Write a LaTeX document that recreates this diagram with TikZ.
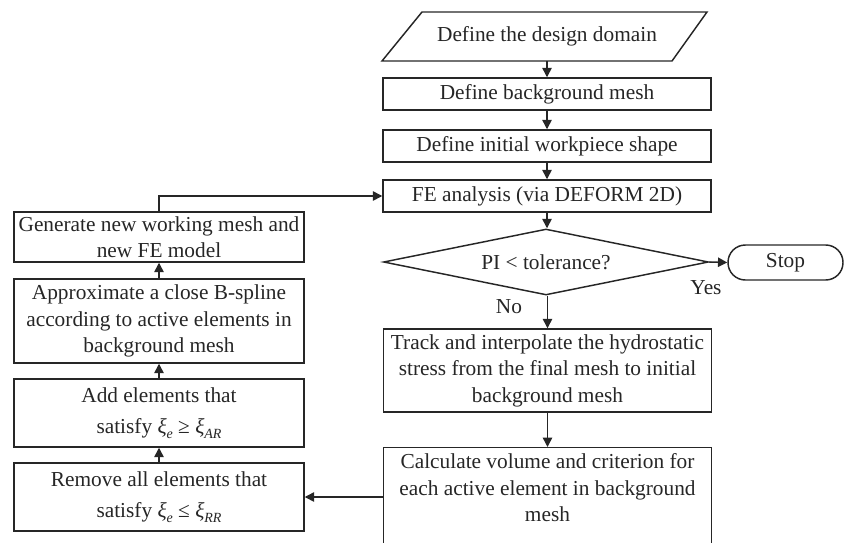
\documentclass[tikz,border=0pt]{standalone}
\usepackage{fontspec}
\setmainfont{Liberation Serif}
\usetikzlibrary{shapes.geometric,arrows.meta}
\definecolor{ink}{HTML}{262626}
% italic xi with a small italic subscript, set in the text font
\newcommand\xisub[1]{{\itshape ξ}\raisebox{-0.45ex}{\fontsize{10.5}{10.5}\selectfont\itshape #1}}
\begin{document}
\begin{tikzpicture}[x=0.75pt,y=-0.75pt,
  every node/.style={text=ink, font=\fontsize{16}{19.8}\selectfont},
  line/.style={draw=ink, line width=1.1pt},
  box/.style={line, rectangle, minimum width=246pt, align=center, inner sep=2pt},
  lbox/.style={line, rectangle, minimum width=217.5pt, align=center, inner sep=2pt},
  arr/.style={draw=ink, line width=1.1pt, -{Triangle[length=7pt,width=7pt]}}]
\useasboundingbox (0,0) rectangle (848,542);
\clip (0,0) rectangle (848,542);

% main column
\draw[line] (382,61) -- (422,12) -- (707,12) -- (672,61) -- cycle;
\node[minimum height=36.75pt, inner sep=0pt] (dom) at (547,36.5) {Define the design domain};
\node[box, minimum height=24pt] (bg) at (547,94) {Define background mesh};
\node[box, minimum height=24pt] (init) at (547,146) {Define initial workpiece shape};
\node[box, minimum height=24pt] (fe) at (547,196) {FE analysis (via DEFORM 2D)};
\node[line, diamond, aspect=4.9, minimum width=243.75pt, minimum height=49.5pt, inner sep=0pt]
      (dia) at (546,262) {PI < tolerance?};
\node[line, rectangle, rounded corners=13pt, minimum width=86.25pt, minimum height=26.25pt]
      (stop) at (785.5,262.5) {Stop};
\node[box, minimum height=62.25pt] (track) at (547.5,370.5)
      {Track and interpolate the hydrostatic\\stress from the final mesh to initial\\background mesh};
\node[box, minimum height=100pt, anchor=north] (calc) at (547.5,447) {};
\node[align=center, anchor=north, inner sep=0pt] (calctext) at ([yshift=-5pt]calc.north)
      {Calculate volume and criterion for\\each active element in background\\mesh};

% left column
\node[lbox, minimum height=37.5pt] (gen) at (159,237)
      {Generate new working mesh and\\new FE model};
\node[lbox, minimum height=63pt] (spl) at (159,321)
      {Approximate a close B-spline\\according to active elements in\\background mesh};
\node[lbox, minimum height=51pt] (add) at (159,413)
      {Add elements that\\[4pt]satisfy \xisub{e} ≥ \xisub{AR}};
\node[lbox, minimum height=51pt] (rem) at (159,497)
      {Remove all elements that\\[4pt]satisfy \xisub{e} ≤ \xisub{RR}};

% connectors
\draw[arr] (dom.south -| bg.north) -- (bg.north);
\draw[arr] (bg) -- (init);
\draw[arr] (init) -- (fe);
\draw[arr] (fe.south) -- (dia.north -| fe.south);
\draw[arr] (dia.east) -- (stop.west);
\draw[arr] (dia.south -| track.north) -- (track.north);
\draw[arr] (track) -- (calc.north);
\draw[arr] (calc.west |- rem.east) -- (rem.east);
\draw[arr] (rem) -- (add);
\draw[arr] (add) -- (spl);
\draw[arr] (spl) -- (gen);
\draw[arr] (gen.north) |- (fe.west);

% branch labels
\node (yes) at (706,288) {Yes};
\node (no) at (509,307) {No};
\end{tikzpicture}
\end{document}
